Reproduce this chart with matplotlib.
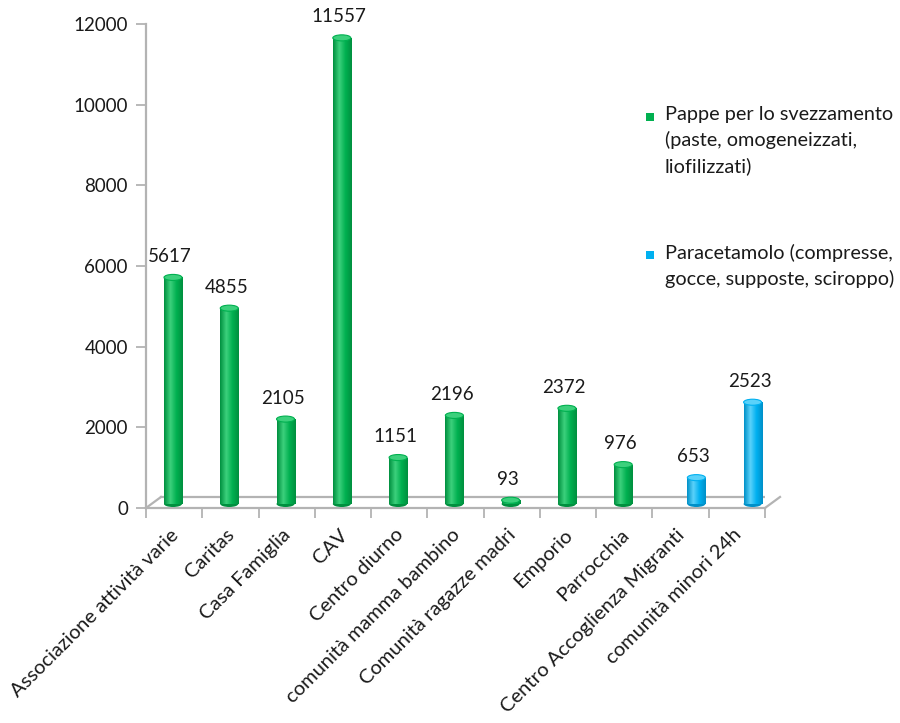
import numpy as np
import matplotlib
matplotlib.use("Agg")
import matplotlib.pyplot as plt
from matplotlib.patches import Ellipse, Rectangle
from matplotlib.colors import LinearSegmentedColormap
from matplotlib.transforms import ScaledTranslation

# Categories and the two series (NaN where a series has no bar)
categories = ['Associazione attività varie', 'Caritas', 'Casa Famiglia', 'CAV',
              'Centro diurno', 'comunità mamma bambino', 'Comunità ragazze madri',
              'Emporio', 'Parrocchia', 'Centro Accoglienza Migranti',
              'comunità minori 24h']
pappe = [5617, 4855, 2105, 11557, 1151, 2196, 93, 2372, 976, np.nan, np.nan]
paracetamolo = [np.nan] * 9 + [653, 2523]
series_names = ['Pappe per lo svezzamento\n(paste, omogeneizzati,\nliofilizzati)',
                'Paracetamolo (compresse,\ngocce, supposte, sciroppo)']
yticks = [0, 2000, 4000, 6000, 8000, 10000, 12000]

GREEN = '#00B050'
BLUE = '#00B0F0'
EDGE = '#B3B3B3'

plt.rcParams['font.family'] = ['Lato', 'DejaVu Sans']

fig = plt.figure(figsize=(9, 7.23), dpi=100)
ax = fig.add_axes([0.1622, 0.2974, 0.6878, 0.6694])
n = len(categories)
ax.set_xlim(0, n)
ax.set_ylim(0, 12000)

# 3D-ish floor: back edge shifted right/up a few pixels
back = ax.transData + ScaledTranslation(15 / 100, 11 / 100, fig.dpi_scale_trans)
ax.plot([0, n], [0, 0], color=EDGE, lw=1.6, transform=back, zorder=1)
# side diagonals of the floor
inv = ax.transData.inverted()
for xe in (0, n):
    q0 = inv.transform(ax.transData.transform((xe, 0)))
    q1 = inv.transform(back.transform((xe, 0)))
    ax.plot([q0[0], q1[0]], [q0[1], q1[1]], color=EDGE, lw=1.6, zorder=1,
            clip_on=False)

bar_off = ax.transData + ScaledTranslation(0, 4 / 100, fig.dpi_scale_trans)
bw = 0.32
cap_h = 150


def cylinder(xc, v, color, dark, light):
    cmap = LinearSegmentedColormap.from_list('c', [dark, light, color, dark])
    grad = np.linspace(0, 1, 64)[None, :]
    rect = Rectangle((xc - bw / 2, 0), bw, v, transform=bar_off,
                     facecolor=color, edgecolor='none', zorder=3)
    ax.add_patch(rect)
    im = ax.imshow(grad, cmap=cmap, aspect='auto', zorder=3,
                   extent=[xc - bw / 2, xc + bw / 2, 0, v])
    im.set_transform(bar_off)
    im.set_clip_path(rect)
    ax.add_patch(Ellipse((xc, 0), bw, cap_h, transform=bar_off,
                         facecolor=dark, edgecolor='none', zorder=2.9))
    ax.add_patch(Ellipse((xc, v), bw, cap_h, transform=bar_off,
                         facecolor=light, edgecolor=color, lw=0.8, zorder=4))
    ax.annotate(f'{int(v)}', (xc, v), xycoords=bar_off, xytext=(-2, 9),
                textcoords='offset points', ha='center', va='bottom',
                fontsize=13.5, color='#1a1a1a', zorder=5)


for i, v in enumerate(pappe):
    if not np.isnan(v):
        cylinder(i + 0.48, v, GREEN, '#00903F', '#3CD07C')
for i, v in enumerate(paracetamolo):
    if not np.isnan(v):
        cylinder(i + 0.78, v, BLUE, '#0090C8', '#5AD2FA')

ax.set_xlim(0, n)
ax.set_ylim(0, 12000)

# axes styling
for s in ('top', 'right'):
    ax.spines[s].set_visible(False)
for s in ('left', 'bottom'):
    ax.spines[s].set_color(EDGE)
    ax.spines[s].set_linewidth(1.6)
ax.set_yticks(yticks)
ax.tick_params(axis='y', length=7, width=1.3, color=EDGE, labelsize=13.5,
               pad=6, labelcolor='#1a1a1a')
ax.set_xticks(np.arange(n + 1), minor=True)
ax.set_xticks(np.arange(n) + 0.42)
ax.set_xticklabels(categories, rotation=45, ha='right', va='top',
                   rotation_mode='anchor', fontsize=14.5, color='#1a1a1a')
ax.tick_params(axis='x', which='major', length=0, pad=13)
ax.tick_params(axis='x', which='minor', length=7, width=1.3, color=EDGE)

# legend drawn by hand to match the reference layout
leg_items = [(series_names[0], GREEN, 0.843), (series_names[1], BLUE, 0.652)]
for label, col, ytop in leg_items:
    fig.patches.append(Rectangle((646 / 900, ytop - 0.0105), 8 / 900, 8 / 723,
                                 transform=fig.transFigure, facecolor=col,
                                 edgecolor='none'))
    fig.text(665 / 900, ytop + 0.0105, label, ha='left', va='top',
             fontsize=14.3, color='#1a1a1a', linespacing=1.53)

fig.savefig('out.png', dpi=100, facecolor='white')
